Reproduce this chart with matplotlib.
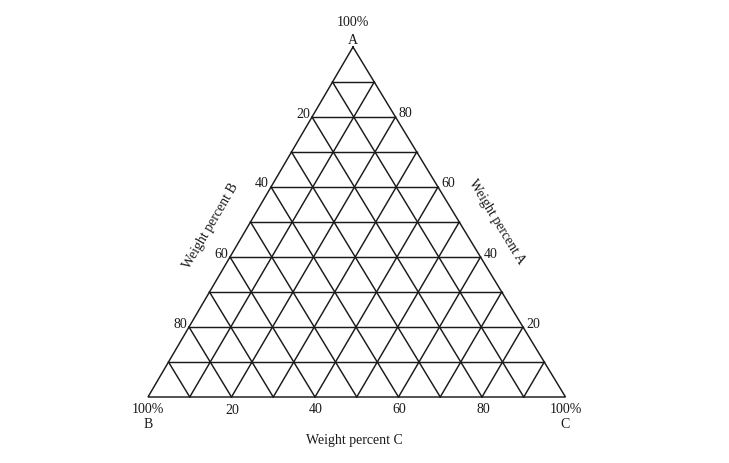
import numpy as np
import matplotlib
matplotlib.use("Agg")
import matplotlib.pyplot as plt

# ---- data ----
grid_levels = [10, 20, 30, 40, 50, 60, 70, 80, 90]      # percent grid lines
tick_values = [20, 40, 60, 80]                           # labelled ticks
vertex_names = ["A", "B", "C"]
axis_titles = {"A": "Weight percent A", "B": "Weight percent B", "C": "Weight percent C"}

# ---- layout (pixel coordinates of the triangle corners) ----
W, H = 729, 464
vA = np.array([353.0, 48.0])
vB = np.array([148.0, 398.0])
vC = np.array([565.5, 398.0])

def tern(a, b, c):
    s = a + b + c
    return (a * vA + b * vB + c * vC) / s

fig = plt.figure(figsize=(W / 100, H / 100), dpi=100)
ax = fig.add_axes([0, 0, 1, 1])
ax.set_xlim(0, W)
ax.set_ylim(H, 0)
ax.axis("off")

plt.rcParams["font.family"] = ["Liberation Serif", "DejaVu Serif"]
fs = 10
lc = "#1a1a1a"
lw = 1.05

# outer triangle
tri = np.array([tern(1, 0, 0), tern(0, 1, 0), tern(0, 0, 1), tern(1, 0, 0)])
ax.plot(tri[:, 0], tri[:, 1], color=lc, lw=lw, solid_joinstyle="miter")

# grid lines
for g in grid_levels:
    f = g / 100.0
    # constant A
    p1, p2 = tern(f, 1 - f, 0), tern(f, 0, 1 - f)
    ax.plot([p1[0], p2[0]], [p1[1], p2[1]], color=lc, lw=lw)
    # constant B
    p1, p2 = tern(1 - f, f, 0), tern(0, f, 1 - f)
    ax.plot([p1[0], p2[0]], [p1[1], p2[1]], color=lc, lw=lw)
    # constant C
    p1, p2 = tern(1 - f, 0, f), tern(0, 1 - f, f)
    ax.plot([p1[0], p2[0]], [p1[1], p2[1]], color=lc, lw=lw)

# tick labels
for t in tick_values:
    f = t / 100.0
    # B on left edge
    p = tern(1 - f, f, 0)
    ax.text(p[0] - 2, p[1] - 4, str(t), ha="right", va="center", fontsize=fs, color=lc)
    # A on right edge
    p = tern(f, 0, 1 - f)
    ax.text(p[0] + 3, p[1] - 4, str(t), ha="left", va="center", fontsize=fs, color=lc)
    # C on bottom edge
    p = tern(0, 1 - f, f)
    ax.text(p[0] + 1, p[1] + 12, str(t), ha="center", va="center", fontsize=fs, color=lc)

# corner labels
pA = tern(1, 0, 0)
ax.text(pA[0], pA[1] - 25, "100%", ha="center", va="center", fontsize=fs, color=lc)
ax.text(pA[0], pA[1] - 8, "A", ha="center", va="center", fontsize=fs, color=lc)
pB = tern(0, 1, 0)
ax.text(pB[0], pB[1] + 12, "100%", ha="center", va="center", fontsize=fs, color=lc)
ax.text(pB[0], pB[1] + 27, "B", ha="center", va="center", fontsize=fs, color=lc)
pC = tern(0, 0, 1)
ax.text(pC[0], pC[1] + 12, "100%", ha="center", va="center", fontsize=fs, color=lc)
ax.text(pC[0], pC[1] + 27, "C", ha="center", va="center", fontsize=fs, color=lc)

# axis titles
angL = np.degrees(np.arctan2(vB[1] - vA[1], vA[0] - vB[0]))
angR = np.degrees(np.arctan2(vC[1] - vA[1], vC[0] - vA[0]))
pm = tern(0.5, 0.5, 0)
ax.text(pm[0] - 40, pm[1] + 3, axis_titles["B"], rotation=angL, rotation_mode="anchor",
        ha="center", va="center", fontsize=fs, color=lc)
pm = tern(0.5, 0, 0.5)
ax.text(pm[0] + 37, pm[1] - 1, axis_titles["A"], rotation=-angR, rotation_mode="anchor",
        ha="center", va="center", fontsize=fs, color=lc)
pm = tern(0, 0.5, 0.5)
ax.text(pm[0] - 2, pm[1] + 43, axis_titles["C"], ha="center", va="center", fontsize=fs, color=lc)

fig.savefig("out.png", dpi=100, facecolor="white")
